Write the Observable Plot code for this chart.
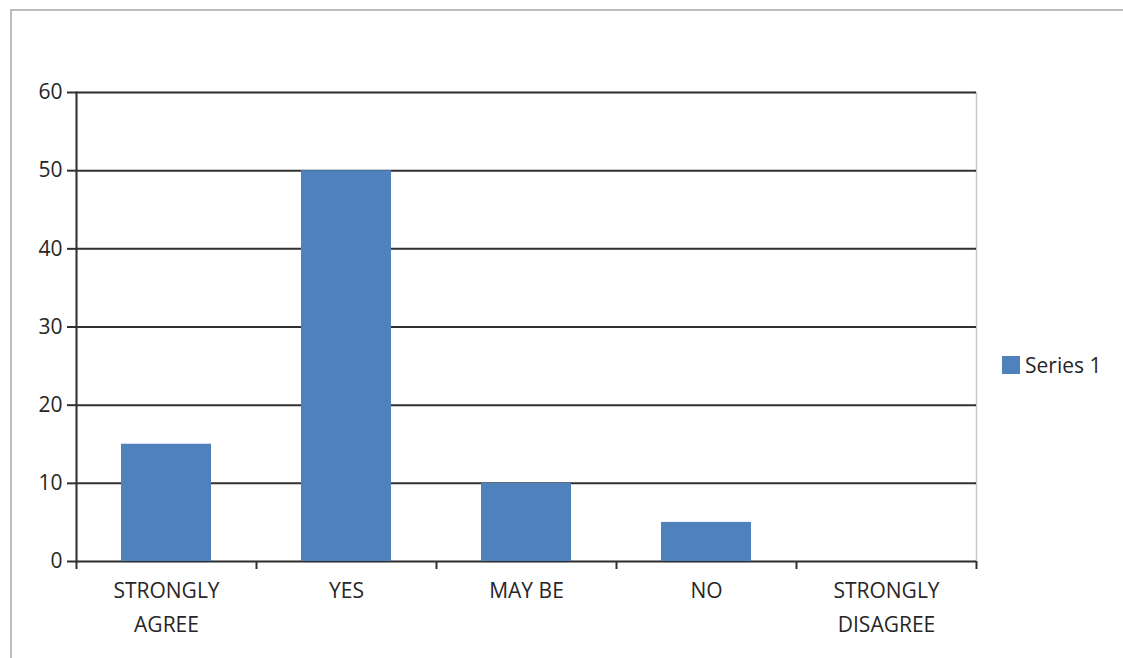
<!DOCTYPE html>
<html>
<head>
<meta charset="utf-8">
<script src="https://cdn.jsdelivr.net/npm/d3@7"></script>
<script src="https://cdn.jsdelivr.net/npm/@observablehq/plot@0.6"></script>
<style>
  body { margin: 0; background: #fff; font-family: "Open Sans", sans-serif; }
  #wrap { position: relative; width: 1123px; height: 658px; overflow: hidden; }
  #border { position: absolute; left: 10px; top: 9px; right: -10px; bottom: -10px;
            border-left: 2px solid #bcbcbc; border-top: 2px solid #bcbcbc; pointer-events: none; }
  #legend { position: absolute; left: 1002px; top: 351px; display: flex; align-items: center;
            font-size: 21px; color: #262626; }
  #legend .sw { width: 18px; height: 18px; background: #4F81BD; margin-right: 5px; }
  #chart { position: absolute; left: 0; top: 0; }
</style>
</head>
<body>
<div id="wrap">
  <div id="chart"></div>
  <div id="border"></div>
  <div id="legend"><span class="sw"></span><span id="legend-label"></span></div>
</div>
<script>
// Survey responses
const categories = ["STRONGLY AGREE", "YES", "MAY BE", "NO", "STRONGLY DISAGREE"];
const tickLabels = ["STRONGLY\nAGREE", "YES", "MAY BE", "NO", "STRONGLY\nDISAGREE"];
const values = [15, 50, 10, 5, 0];
const yTicks = [0, 10, 20, 30, 40, 50, 60];
const seriesName = "Series 1";

const data = categories.map((c, i) => ({category: c, value: values[i]}));
const labelOf = new Map(categories.map((c, i) => [c, tickLabels[i]]));

const W = 1123, H = 658;
const mLeft = 76, mRight = 147, mTop = 92, mBottom = 97;
const half = (W - mLeft - mRight) / categories.length / 2;
const FS = 21;

const chart = Plot.plot({
  width: W,
  height: H,
  marginLeft: mLeft,
  marginRight: mRight,
  marginTop: mTop,
  marginBottom: mBottom,
  style: {fontFamily: "Open Sans, sans-serif", fontSize: FS + "px", color: "#262626", background: "transparent"},
  x: {domain: categories, paddingInner: 0.5, paddingOuter: 0.25},
  y: {domain: [0, 60]},
  marks: [
    // light plot-area border (right edge stays visible)
    Plot.frame({stroke: "#c8c8c8", strokeWidth: 1.5}),
    // horizontal gridlines
    Plot.ruleY(yTicks, {stroke: "#303030", strokeWidth: 2}),
    Plot.barY(data, {x: "category", y: "value", fill: "#4F81BD"}),
    // left axis line
    Plot.frame({anchor: "left", stroke: "#303030", strokeWidth: 2}),
    Plot.axisY({ticks: yTicks, tickSize: 9, tickPadding: 5, fontSize: FS, stroke: "#303030", strokeWidth: 2, label: null}),
    // category boundary ticks below the baseline
    Plot.ruleX(categories, {x: d => d, y1: 0, y2: 0, insetBottom: -8, dx: -half, stroke: "#303030", strokeWidth: 2}),
    Plot.ruleX(categories.slice(-1), {x: d => d, y1: 0, y2: 0, insetBottom: -8, dx: half, stroke: "#303030", strokeWidth: 2}),
    Plot.axisX({tickSize: 0, tickPadding: 12, fontSize: FS, lineHeight: 1.62, tickFormat: d => labelOf.get(d), label: null})
  ]
});
document.getElementById("chart").appendChild(chart);
document.getElementById("legend-label").textContent = seriesName;
</script>
</body>
</html>
